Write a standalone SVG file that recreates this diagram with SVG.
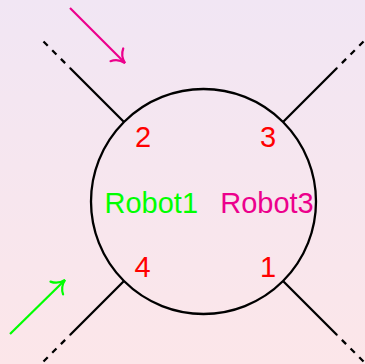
<svg xmlns="http://www.w3.org/2000/svg" width="365" height="364" viewBox="0 0 365 364">
  <defs>
    <linearGradient id="bg" x1="0" y1="0" x2="0" y2="1">
      <stop offset="0" stop-color="#F1E6F4"/>
      <stop offset="1" stop-color="#FCE6E9"/>
    </linearGradient>
    <marker id="toMag" markerUnits="userSpaceOnUse" markerWidth="20" markerHeight="20" refX="0" refY="0" viewBox="-14 -10 16 20" orient="auto" overflow="visible">
      <path d="M -11.5,-9 C -9,-3.5 -3.5,-0.8 0,0 C -3.5,0.8 -9,3.5 -11.5,9" fill="none" stroke="#EC008C" stroke-width="2.2" stroke-linecap="round"/>
    </marker>
    <marker id="toGreen" markerUnits="userSpaceOnUse" markerWidth="20" markerHeight="20" refX="0" refY="0" viewBox="-14 -10 16 20" orient="auto" overflow="visible">
      <path d="M -11.5,-9 C -9,-3.5 -3.5,-0.8 0,0 C -3.5,0.8 -9,3.5 -11.5,9" fill="none" stroke="#00FF00" stroke-width="2.2" stroke-linecap="round"/>
    </marker>
  </defs>
  <style>
    .solid { stroke: #000; stroke-width: 2.3; fill: none; }
    .dash { stroke: #000; stroke-width: 2.3; fill: none; stroke-dasharray: 6 6.3; }
    .lbl { font-family: "Liberation Sans", Arial, sans-serif; font-size: 29px; text-anchor: middle; }
    .num { fill: #FF0000; }
  </style>
  <rect x="0" y="0" width="365" height="364" fill="url(#bg)"/>

  <g id="connectors">
    <line class="solid" x1="124" y1="122" x2="70" y2="68"/>
    <line class="dash" x1="43.5" y1="41.5" x2="70" y2="68"/>
    <line class="solid" x1="283" y1="122" x2="337" y2="68"/>
    <line class="dash" x1="363.5" y1="41.5" x2="337" y2="68"/>
    <line class="solid" x1="124" y1="281" x2="70" y2="335"/>
    <line class="dash" x1="43.5" y1="361.5" x2="70" y2="335"/>
    <line class="solid" x1="283" y1="281" x2="337" y2="335"/>
    <line class="dash" x1="363.5" y1="361.5" x2="337" y2="335"/>
    <line id="arrow-magenta" x1="70" y1="8" x2="125" y2="63" stroke="#EC008C" stroke-width="2.2" marker-end="url(#toMag)"/>
    <line id="arrow-green" x1="10" y1="334" x2="65" y2="280" stroke="#00FF00" stroke-width="2.2" marker-end="url(#toGreen)"/>
  </g>

  <g id="node-circle">
    <circle cx="203.5" cy="201.5" r="112.5" fill="none" stroke="#000" stroke-width="2.3"/>
  </g>
  <g id="label-2"><text class="lbl num" x="143" y="147">2</text></g>
  <g id="label-3"><text class="lbl num" x="268" y="147">3</text></g>
  <g id="label-4"><text class="lbl num" x="142.5" y="277">4</text></g>
  <g id="label-1"><text class="lbl num" x="268" y="277">1</text></g>
  <g id="robot1"><text class="lbl" x="151.3" y="212.5" fill="#00FF00">Robot1</text></g>
  <g id="robot3"><text class="lbl" x="267" y="212.5" fill="#EC008C">Robot3</text></g>
</svg>
